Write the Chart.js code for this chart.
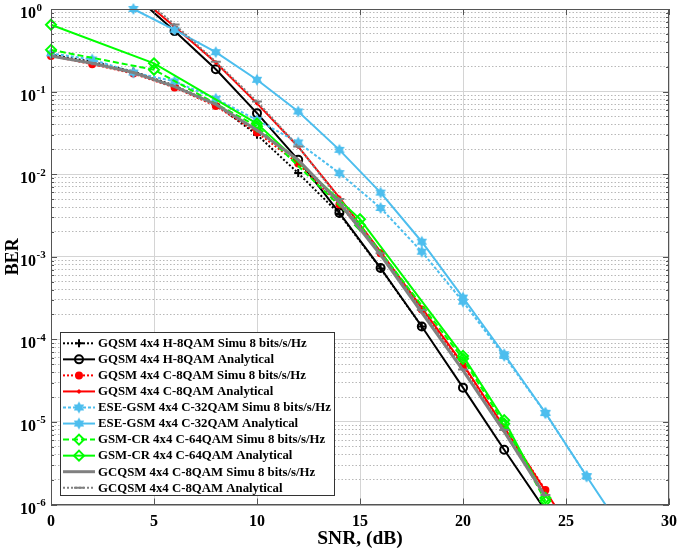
<!DOCTYPE html>
<html lang="en">
<head>
  <meta charset="UTF-8" />
  <title>BER vs SNR</title>
  <script src="https://cdn.jsdelivr.net/npm/chart.js"></script>
  <style>
    body { margin: 0; background: #fff; }
    canvas { display: block; }
  </style>
</head>
<body>
  <canvas id="berChart" width="685" height="552"></canvas>

  <script>
    // axis ticks
    const snrTicks = [0, 5, 10, 15, 20, 25, 30];
    const berDecades = [1e0, 1e-1, 1e-2, 1e-3, 1e-4, 1e-5, 1e-6];
    const berExponents = ['0', '-1', '-2', '-3', '-4', '-5', '-6'];

    // GQSM 4x4 H-8QAM
    const snrHSimu = [0, 2, 4, 6, 8, 10, 12, 14, 16, 18];
    const berHSimu = [0.28, 0.23, 0.175, 0.118, 0.070, 0.030, 0.0103, 0.0033, 7.2e-4, 1.43e-4];
    const snrHAnal = [4, 6, 8, 10, 12, 14, 16, 18, 20, 22, 24];
    const berHAnal = [1.5, 0.54, 0.186, 0.0548, 0.0149, 0.0034, 7.3e-4, 1.43e-4, 2.6e-5, 4.6e-6, 8.5e-7];

    // GQSM 4x4 C-8QAM
    const snrCSimu = [0, 2, 4, 6, 8, 10, 12, 14, 16, 18, 20, 22, 24];
    const berCSimu = [0.27, 0.215, 0.165, 0.112, 0.067, 0.032, 0.0135, 0.0043, 1.1e-3, 2.3e-4, 4.8e-5, 8.5e-6, 1.5e-6];
    const snrCAnal = [4, 6, 8, 10, 12, 14, 16, 18, 20, 22, 24, 26];
    const berCAnal = [1.6, 0.61, 0.225, 0.072, 0.0215, 0.0052, 1.15e-3, 2.4e-4, 5.0e-5, 8.6e-6, 1.46e-6, 2.5e-7];

    // ESE-GSM 4x4 C-32QAM
    const snrESimu = [0, 2, 4, 6, 8, 10, 12, 14, 16, 18, 20, 22, 24, 26];
    const berESimu = [0.29, 0.245, 0.17, 0.133, 0.082, 0.0452, 0.0242, 0.0103, 0.0039, 1.15e-3, 2.86e-4, 6.3e-5, 1.28e-5, 2.2e-6];
    const snrEAnal = [4, 6, 8, 10, 12, 14, 16, 18, 20, 22, 24, 26, 28];
    const berEAnal = [1.0, 0.56, 0.30, 0.139, 0.0574, 0.0197, 0.00598, 1.52e-3, 3.2e-4, 6.6e-5, 1.29e-5, 2.2e-6, 3.9e-7];

    // GSM-CR 4x4 C-64QAM
    const snrGSimu = [0, 5, 10, 15, 20, 22, 24];
    const berGSimu = [0.32, 0.184, 0.038, 2.4e-3, 5.8e-5, 9.5e-6, 1.1e-6];
    const snrGAnal = [0, 5, 10, 15, 20, 22, 24];
    const berGAnal = [0.645, 0.22, 0.041, 2.85e-3, 6.3e-5, 1.05e-5, 1.2e-6];

    // GCQSM 4x4 C-8QAM
    const snrQSimu = [0, 2, 4, 6, 8, 10, 12, 14, 16, 18, 20, 22, 24];
    const berQSimu = [0.27, 0.22, 0.17, 0.115, 0.070, 0.034, 0.0149, 0.0045, 1.05e-3, 2.1e-4, 4.2e-5, 7.6e-6, 1.25e-6];
    const snrQAnal = [4, 6, 8, 10, 12, 14, 16, 18, 20, 22, 24];
    const berQAnal = [1.7, 0.65, 0.23, 0.076, 0.0216, 0.005, 1.1e-3, 2.26e-4, 4.3e-5, 8e-6, 1.3e-6];

    const FONT = '"Liberation Serif", "Times New Roman", serif';
    const BLUE = '#4DBEEE';

    // filled six-point star like the matlab hexagram marker
    function hexagram(color, r) {
      const c = document.createElement('canvas');
      const s = Math.ceil(r * 2 + 2);
      c.width = c.height = s;
      const g = c.getContext('2d');
      g.fillStyle = color;
      [-Math.PI / 2, Math.PI / 2].forEach(off => {
        g.beginPath();
        for (let k = 0; k < 3; k++) {
          const a = off + k * 2 * Math.PI / 3;
          g.lineTo(s / 2 + r * Math.cos(a), s / 2 + r * Math.sin(a));
        }
        g.closePath();
        g.fill();
      });
      return c;
    }
    const star = hexagram(BLUE, 6);

    const series = [
      { label: 'GQSM 4x4 H-8QAM Simu 8 bits/s/Hz', x: snrHSimu, y: berHSimu, color: '#000', dash: [2, 2], width: 2, point: 'cross', radius: 4, fill: '#000' },
      { label: 'GQSM 4x4 H-8QAM Analytical', x: snrHAnal, y: berHAnal, color: '#000', dash: [], width: 2, point: 'circle', radius: 4, fill: 'rgba(0,0,0,0)' },
      { label: 'GQSM 4x4 C-8QAM Simu 8 bits/s/Hz', x: snrCSimu, y: berCSimu, color: '#f00', dash: [2, 2], width: 2, point: 'circle', radius: 3, fill: '#f00' },
      { label: 'GQSM 4x4 C-8QAM Analytical', x: snrCAnal, y: berCAnal, color: '#f00', dash: [], width: 2, point: 'cross', radius: 2, fill: '#f00' },
      { label: 'ESE-GSM 4x4 C-32QAM Simu 8 bits/s/Hz', x: snrESimu, y: berESimu, color: BLUE, dash: [3, 2], width: 2, point: star, radius: 6, fill: BLUE, top: 8 },
      { label: 'ESE-GSM 4x4 C-32QAM Analytical', x: snrEAnal, y: berEAnal, color: BLUE, dash: [], width: 2, point: star, radius: 6, fill: BLUE, top: 8 },
      { label: 'GSM-CR 4x4 C-64QAM Simu 8 bits/s/Hz', x: snrGSimu, y: berGSimu, color: '#0f0', dash: [6, 3], width: 2, point: 'rectRot', radius: 5, fill: 'rgba(0,0,0,0)' },
      { label: 'GSM-CR 4x4 C-64QAM Analytical', x: snrGAnal, y: berGAnal, color: '#0f0', dash: [], width: 2, point: 'rectRot', radius: 5, fill: 'rgba(0,0,0,0)' },
      { label: 'GCQSM 4x4 C-8QAM Simu 8 bits/s/Hz', x: snrQSimu, y: berQSimu, color: '#808080', dash: [], width: 3, point: 'circle', radius: 0, fill: '#808080' },
      { label: 'GCQSM 4x4 C-8QAM Analytical', x: snrQAnal, y: berQAnal, color: '#808080', dash: [2, 2], width: 2, point: 'line', radius: 5, fill: '#808080' }
    ];

    const datasets = series.map((s, i) => ({
      label: s.label,
      data: s.x.map((v, k) => ({ x: v, y: s.y[k] })),
      borderColor: s.color,
      backgroundColor: s.fill,
      borderWidth: s.width,
      borderDash: s.dash,
      pointStyle: s.point,
      pointRadius: s.radius,
      pointBorderColor: s.color,
      pointBackgroundColor: s.fill,
      pointBorderWidth: 2,
      tension: 0,
      order: series.length - i,
      clip: { left: 8, top: s.top || 0, right: 0, bottom: 0 }
    }));

    const minorTicks = [];
    berDecades.slice(1).forEach(d => {
      for (let k = 2; k <= 9; k++) minorTicks.push(k * d);
    });

    const AXIS = '#555';

    const decor = {
      id: 'decor',
      afterDraw(chart) {
        const { ctx, chartArea: a } = chart;
        const y = chart.scales.y;
        ctx.save();

        // box + inside ticks
        ctx.strokeStyle = AXIS;
        ctx.lineWidth = 1;
        ctx.strokeRect(a.left + 0.5, a.top + 0.5, a.right - a.left - 1, a.bottom - a.top);
        ctx.beginPath();
        berDecades.forEach(v => {
          const py = Math.round(y.getPixelForValue(v)) + 0.5;
          ctx.moveTo(a.left, py); ctx.lineTo(a.left + 6, py);
          ctx.moveTo(a.right, py); ctx.lineTo(a.right - 6, py);
        });
        minorTicks.forEach(v => {
          const py = Math.round(y.getPixelForValue(v)) + 0.5;
          ctx.moveTo(a.left, py); ctx.lineTo(a.left + 3, py);
          ctx.moveTo(a.right, py); ctx.lineTo(a.right - 3, py);
        });
        snrTicks.forEach(v => {
          const px = Math.round(chart.scales.x.getPixelForValue(v)) + 0.5;
          ctx.moveTo(px, a.bottom); ctx.lineTo(px, a.bottom - 6);
          ctx.moveTo(px, a.top); ctx.lineTo(px, a.top + 6);
        });
        ctx.stroke();

        // y tick labels 10^n
        ctx.fillStyle = '#000';
        ctx.textBaseline = 'alphabetic';
        berDecades.forEach((v, i) => {
          const py = y.getPixelForValue(v);
          ctx.font = 'bold 16px ' + FONT;
          ctx.textAlign = 'right';
          ctx.fillText('10', 36, py + 9);
          ctx.font = 'bold 11px ' + FONT;
          ctx.textAlign = 'left';
          ctx.fillText(berExponents[i], 36.5, py + 1.5);
        });

        // legend
        const box = { left: 60, top: 332, right: 334, bottom: 495 };
        ctx.fillStyle = '#fff';
        ctx.fillRect(box.left, box.top, box.right - box.left, box.bottom - box.top);
        ctx.strokeStyle = '#333';
        ctx.strokeRect(box.left + 0.5, box.top + 0.5, box.right - box.left, box.bottom - box.top);
        chart.data.datasets.forEach((ds, i) => {
          const ly = 343.3 + i * 16.05;
          ctx.strokeStyle = ds.borderColor;
          ctx.lineWidth = ds.borderWidth;
          ctx.setLineDash(ds.borderDash);
          ctx.beginPath();
          ctx.moveTo(63, ly);
          ctx.lineTo(95, ly);
          ctx.stroke();
          ctx.setLineDash([]);
          if (ds.pointRadius > 0) {
            ctx.fillStyle = ds.pointBackgroundColor;
            ctx.strokeStyle = ds.pointBorderColor;
            ctx.lineWidth = ds.pointBorderWidth;
            Chart.helpers.drawPoint(ctx, {
              pointStyle: ds.pointStyle, radius: ds.pointRadius, rotation: 0, borderWidth: ds.pointBorderWidth
            }, 79, ly);
          }
          ctx.fillStyle = '#000';
          ctx.font = 'bold 12.8px ' + FONT;
          ctx.textAlign = 'left';
          ctx.textBaseline = 'middle';
          ctx.fillText(ds.label, 98, ly + 0.5);
        });
        ctx.restore();
      }
    };

    new Chart(document.getElementById('berChart'), {
      type: 'line',
      data: { datasets },
      plugins: [decor],
      options: {
        responsive: false,
        animation: false,
        devicePixelRatio: 1,
        layout: { padding: { top: 9, right: 9, left: 0, bottom: 0 } },
        plugins: { legend: { display: false }, tooltip: { enabled: false } },
        scales: {
          x: {
            type: 'linear',
            min: 0,
            max: 30,
            afterBuildTicks: s => { s.ticks = snrTicks.map(v => ({ value: v })); },
            afterFit: s => { s.height = 47.5; },
            ticks: { color: '#000', font: { family: FONT, size: 16, weight: 'bold' }, padding: 8 },
            grid: { color: '#d4d4d4', drawTicks: false },
            border: { color: AXIS },
            title: { display: true, text: 'SNR, (dB)', color: '#000', font: { family: FONT, size: 19.5, weight: 'bold' }, padding: { top: 0, bottom: 1 } }
          },
          y: {
            type: 'logarithmic',
            min: 1e-6,
            max: 1,
            afterBuildTicks: s => { s.ticks = berDecades.map(v => ({ value: v })); },
            afterFit: s => { s.width = 51; },
            ticks: { display: false },
            grid: { color: '#d4d4d4', drawTicks: false },
            border: { color: AXIS },
            title: { display: true, text: 'BER', color: '#000', font: { family: FONT, size: 18, weight: 'bold' }, padding: { top: 3, bottom: 0 } }
          },
          y2: {
            type: 'logarithmic',
            position: 'right',
            min: 1e-6,
            max: 1,
            afterBuildTicks: s => { s.ticks = minorTicks.map(v => ({ value: v })); },
            afterFit: s => { s.width = 0; },
            ticks: { display: false },
            grid: { color: '#b8b8b8', drawTicks: false },
            border: { display: false, dash: [1.5, 2] }
          }
        }
      }
    });
  </script>
</body>
</html>
